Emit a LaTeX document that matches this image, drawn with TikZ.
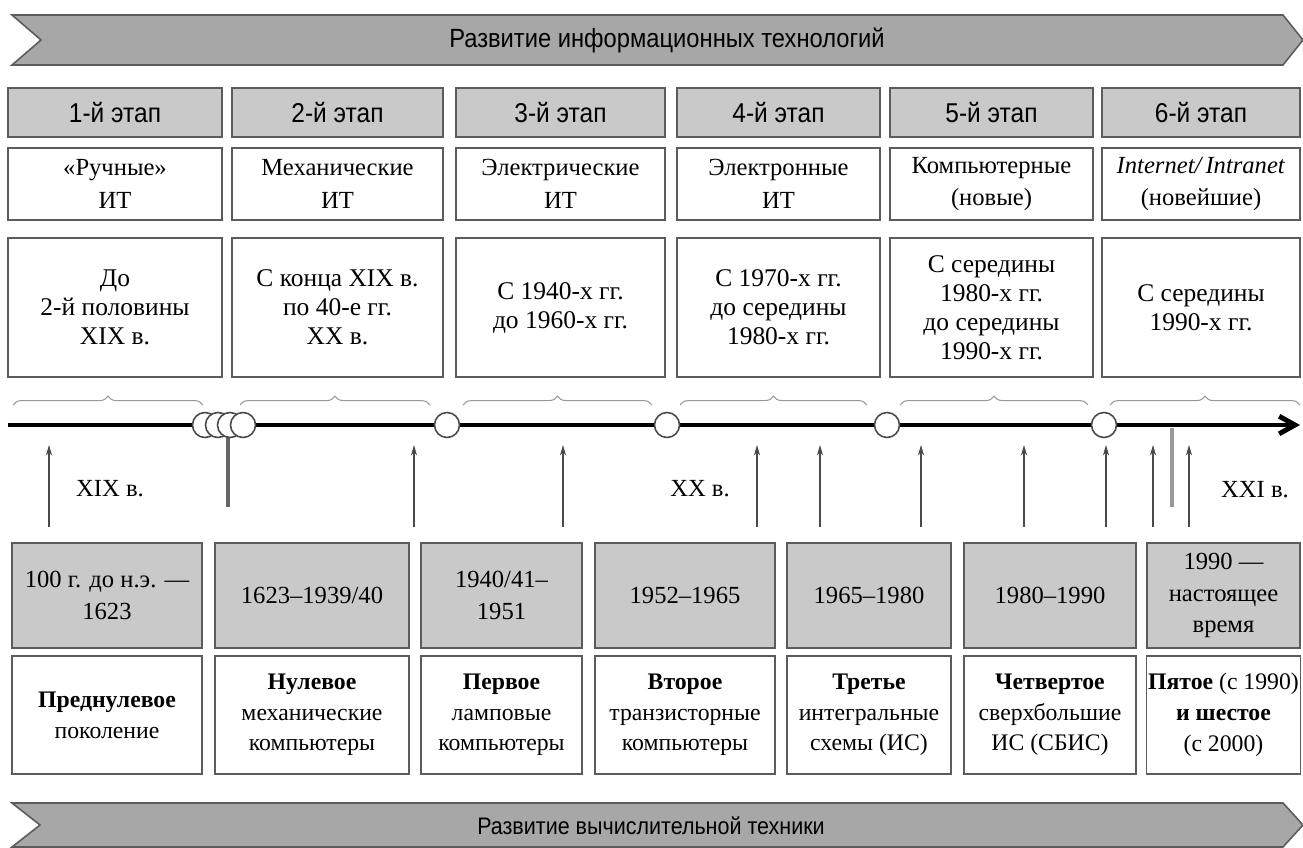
\documentclass[tikz,border=0pt]{standalone}
\usepackage{fontspec}
\setmainfont{Liberation Serif}
\newfontfamily\narrowsans[FakeStretch=0.9]{Liberation Sans}
\usepackage{tikz}
\usetikzlibrary{arrows.meta,decorations.pathreplacing}
\definecolor{bannergrey}{HTML}{A7A7A7}
\definecolor{cellgrey}{HTML}{C9C9C9}
\definecolor{framegrey}{HTML}{5C5C5C}
\definecolor{inkgrey}{HTML}{4A4A4A}
\tikzset{
  ht/.style={draw=framegrey, line width=0.9pt, align=center, inner sep=1pt, font=\fontsize{14}{17}\selectfont},
  ht stage/.style={ht, fill=cellgrey, minimum height=49*0.02cm, font=\narrowsans\fontsize{15.5}{17}\selectfont},
  ht kind/.style={ht, fill=white, minimum height=72*0.02cm, font=\fontsize{14}{18.5}\selectfont},
  ht period/.style={ht, fill=white, minimum height=139*0.02cm, font=\fontsize{14.5}{16.5}\selectfont},
  ht years/.style={ht, fill=cellgrey, minimum height=105*0.02cm, font=\fontsize{14}{18}\selectfont},
  ht gen/.style={ht, fill=white, minimum height=118*0.02cm, font=\fontsize{13.5}{17.5}\selectfont},
  ht banner/.style={fill=bannergrey, draw=framegrey, line width=0.9pt},
  ht banner text/.style={font=\narrowsans\fontsize{15}{17}\selectfont, inner sep=0pt},
  ht knot/.style={circle, draw=inkgrey, line width=0.9pt, fill=white, minimum size=25*0.02cm, inner sep=0pt},
  ht line/.style={line width=2.8pt, black, -{Straight Barb[length=9pt, width=10pt]}},
  ht bar/.style={line width=2.3pt},
  ht arr/.style={-{Stealth[length=6pt, width=3.5pt]}, line width=0.7pt, inkgrey},
  ht brace/.style={decorate, decoration={brace, amplitude=5pt}, line width=0.6pt, black!40},
  ht cent/.style={font=\fontsize{14}{16}\selectfont, inner sep=0pt},
}
\begin{document}
\begin{tikzpicture}[x=0.02cm, y=-0.02cm]
  \useasboundingbox (0,0) rectangle (1303,848);
  % banners
  \draw[ht banner] (12,15) -- (1283,15) -- (1303,40) -- (1283,65) -- (12,65) -- (41,40) -- cycle;
  \node[ht banner text] (itbanner) at (667,40) {Развитие информационных технологий};
  \draw[ht banner] (12,803) -- (1283,803) -- (1303,825) -- (1283,847) -- (12,847) -- (40,825) -- cycle;
  \node[ht banner text, font=\narrowsans\fontsize{13.6}{16}\selectfont] (cmbanner) at (651,826) {Развитие вычислительной техники};
  % stages of IT
  \foreach \cx/\w/\i/\kind/\per in {
      115/214/1/{«Ручные»\\ИТ}/{До\\2-й половины\\XIX в.},
      337.5/211/2/{Механические\\ИТ}/{С конца XIX в.\\по 40-е гг.\\XX в.},
      560.5/209/3/{Электрические\\ИТ}/{С 1940-х гг.\\до 1960-х гг.},
      778.5/203/4/{Электронные\\ИТ}/{С 1970-х гг.\\до середины\\1980-х гг.},
      991.5/203/5/{Компьютерные\\(новые)}/{С середины\\1980-х гг.\\до середины\\1990-х гг.},
      1201/198/6/{\textit{Internet/\,Intranet}\\(новейшие)}/{С середины\\1990-х гг.}} {
    \node[ht stage, minimum width=\w*0.02cm] (st\i) at (\cx,112.5) {\i-й этап};
    \node[ht kind, minimum width=\w*0.02cm] (kd\i) at (\cx,184) {\kind};
    \node[ht period, minimum width=\w*0.02cm] (pd\i) at (\cx,307.5) {\per};
  }
  % braces over the time axis
  \foreach \xa/\xb/\i in {13/203/1, 240/430/2, 463/652/3, 680/867/4, 900/1088/5, 1110/1300/6} {
    \coordinate (bl\i) at (\xa,405); \coordinate (br\i) at (\xb,405);
    \draw[ht brace] (bl\i) -- (br\i);
  }
  % bars
  \coordinate (barAt) at (228,425); \coordinate (barAb) at (228,507);
  \coordinate (barBt) at (1172,428); \coordinate (barBb) at (1172,507);
  \draw[ht bar, black!60] (barAt) -- (barAb);
  \draw[ht bar, black!40] (barBt) -- (barBb);
  % time axis
  \coordinate (axs) at (8,425); \coordinate (axe) at (1300,425);
  \draw[ht line] (axs) -- (axe);
  \foreach \x/\i in {205/1, 218/2, 230/3, 243/4, 447/5, 667/6, 887/7, 1104/8}
    \node[ht knot] (kn\i) at (\x,425) {};
  % events
  \foreach \x/\i in {49/1, 414/2, 563/3, 757/4, 820/5, 921/6, 1024/7, 1106/8, 1153/9, 1189/10} {
    \coordinate (ev\i) at (\x,527); \coordinate (ax\i) at (\x,445);
    \draw[ht arr] (ev\i) -- (ax\i);
  }
  \node[ht cent] (c19) at (110,489) {XIX в.};
  \node[ht cent] (c20) at (700,489) {XX в.};
  \node[ht cent] (c21) at (1255,490) {XXI в.};
  % generations of computers
  \foreach \cx/\w/\i/\yrs/\gen in {
      107/190/1/{100 г. до н.э. —\\1623}/{\textbf{Преднулевое}\\поколение},
      312/194/2/{1623–1939/40}/{\textbf{Нулевое}\\механические\\компьютеры},
      501.5/161/3/{1940/41–\\1951}/{\textbf{Первое}\\ламповые\\компьютеры},
      685/180/4/{1952–1965}/{\textbf{Второе}\\транзисторные\\компьютеры},
      869/164/5/{1965–1980}/{\textbf{Третье}\\интегральные\\схемы (ИС)},
      1050/172/6/{1980–1990}/{\textbf{Четвертое}\\сверхбольшие\\ИС (СБИС)},
      1223.5/153/7/{1990 —\\настоящее\\время}/{\textbf{Пятое} (с 1990)\\\textbf{и шестое}\\(с 2000)}} {
    \node[ht years, minimum width=\w*0.02cm] (yr\i) at (\cx,595.5) {\yrs};
    \node[ht gen, minimum width=\w*0.02cm] (gn\i) at (\cx,715) {\gen};
  }
\end{tikzpicture}
\end{document}
